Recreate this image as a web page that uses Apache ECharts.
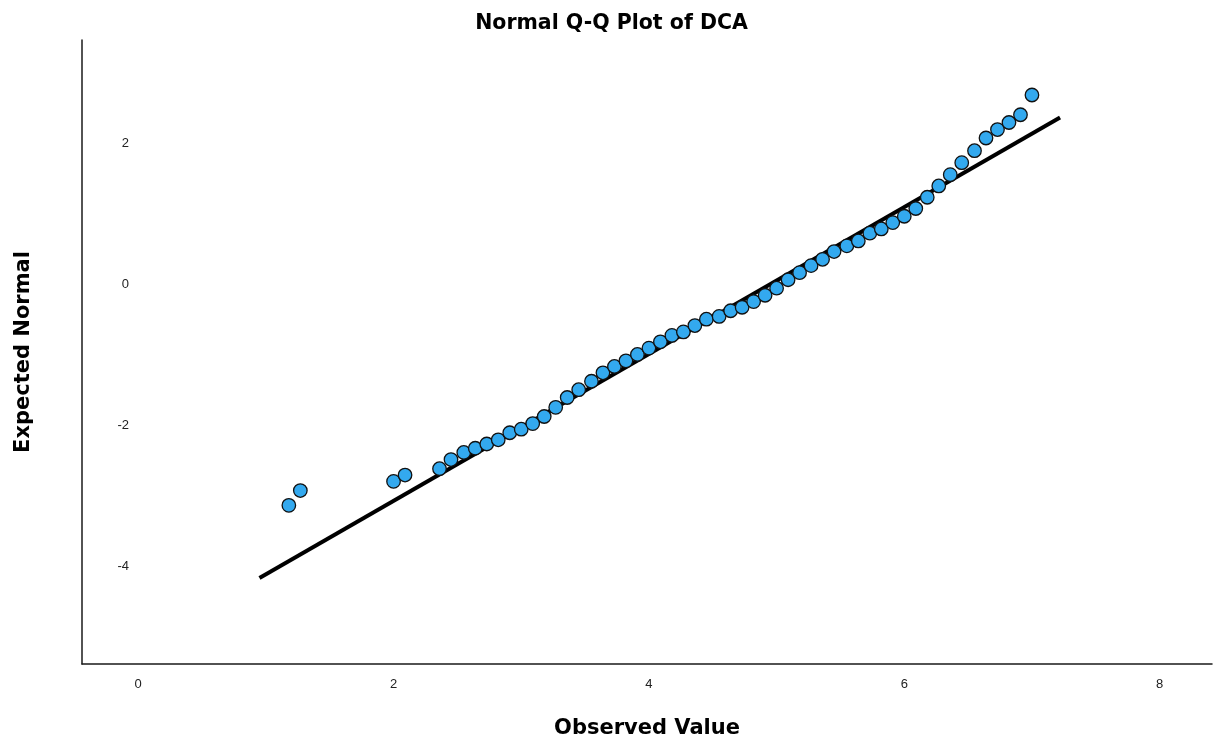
<!DOCTYPE html>
<html>
<head>
<meta charset="utf-8">
<title>Normal Q-Q Plot of DCA</title>
<script src="https://cdn.jsdelivr.net/npm/echarts@6/dist/echarts.min.js"></script>
<style>
  html, body { margin: 0; padding: 0; background: #ffffff; }
  #chart { width: 1223px; height: 747px; }
</style>
</head>
<body>
<div id="chart"></div>
<script>
// Observed DCA values (distinct values) and their expected normal quantiles
const observedValues = [
  1.18, 1.27, 2.00, 2.09, 2.36, 2.45, 2.55, 2.64, 2.73, 2.82,
  2.91, 3.00, 3.09, 3.18, 3.27, 3.36, 3.45, 3.55, 3.64, 3.73,
  3.82, 3.91, 4.00, 4.09, 4.18, 4.27, 4.36, 4.45, 4.55, 4.64,
  4.73, 4.82, 4.91, 5.00, 5.09, 5.18, 5.27, 5.36, 5.45, 5.55,
  5.64, 5.73, 5.82, 5.91, 6.00, 6.09, 6.18, 6.27, 6.36, 6.45,
  6.55, 6.64, 6.73, 6.82, 6.91, 7.00
];
const expectedNormal = [
  -3.14, -2.93, -2.80, -2.71, -2.62, -2.49, -2.39, -2.33, -2.27, -2.21,
  -2.11, -2.06, -1.98, -1.88, -1.75, -1.61, -1.50, -1.38, -1.26, -1.17,
  -1.09, -1.00, -0.91, -0.82, -0.73, -0.68, -0.59, -0.50, -0.46, -0.38,
  -0.33, -0.25, -0.16, -0.06, 0.06, 0.16, 0.26, 0.35, 0.46, 0.54,
  0.61, 0.72, 0.78, 0.87, 0.96, 1.07, 1.23, 1.39, 1.55, 1.72,
  1.89, 2.07, 2.19, 2.29, 2.40, 2.68
];

// Reference line (normal distribution fit) endpoints
const refLineX = [0.95, 7.22];
const refLineY = [-4.17, 2.36];

// Tick labels
const xTicks = [0, 2, 4, 6, 8];
const yTicks = [-4, -2, 0, 2];

const points = observedValues.map((v, i) => [v, expectedNormal[i]]);
const refLine = refLineX.map((v, i) => [v, refLineY[i]]);

const FONT = 'Liberation Sans, Arial, sans-serif';
const BOLD_FONT = 'DejaVu Sans, Liberation Sans, sans-serif';

const chart = echarts.init(document.getElementById('chart'), null, { renderer: 'canvas' });
chart.setOption({
  backgroundColor: '#ffffff',
  animation: false,
  title: {
    text: 'Normal Q-Q Plot of DCA',
    left: 'center',
    top: 8,
    textStyle: { fontFamily: BOLD_FONT, fontSize: 20.5, fontWeight: 'bold', color: '#000' }
  },
  grid: { left: 82, right: 11, top: 40, bottom: 83, outerBoundsMode: 'none', containLabel: false },
  xAxis: {
    type: 'value',
    min: -0.44,
    max: 8.41,
    name: 'Observed Value',
    nameLocation: 'middle',
    nameGap: 54,
    nameTextStyle: { fontFamily: BOLD_FONT, fontSize: 21, fontWeight: 'bold', color: '#000' },
    axisLine: { show: true, onZero: false, lineStyle: { color: '#1a1a1a', width: 1.5 } },
    axisTick: { show: false },
    splitLine: { show: false },
    axisLabel: {
      customValues: xTicks,
      margin: 14,
      fontFamily: FONT,
      fontSize: 13,
      color: '#222'
    }
  },
  yAxis: {
    type: 'value',
    min: -5.39,
    max: 3.46,
    name: 'Expected Normal',
    nameLocation: 'middle',
    nameGap: 48,
    nameRotate: 90,
    nameTextStyle: { fontFamily: BOLD_FONT, fontSize: 21, fontWeight: 'bold', color: '#000' },
    axisLine: { show: true, onZero: false, lineStyle: { color: '#1a1a1a', width: 1.5 } },
    axisTick: { show: false },
    splitLine: { show: false },
    axisLabel: {
      customValues: yTicks,
      inside: true,
      margin: 47,
      align: 'right',
      fontFamily: FONT,
      fontSize: 13,
      color: '#222'
    }
  },
  series: [
    {
      type: 'line',
      data: refLine,
      showSymbol: false,
      symbol: 'none',
      lineStyle: { color: '#000', width: 4 },
      z: 2,
      silent: true
    },
    {
      type: 'scatter',
      data: points,
      symbol: 'circle',
      symbolSize: 13.5,
      itemStyle: { color: '#33a9ef', borderColor: '#111', borderWidth: 1.3, opacity: 1 },
      z: 3
    }
  ]
});
</script>
</body>
</html>
